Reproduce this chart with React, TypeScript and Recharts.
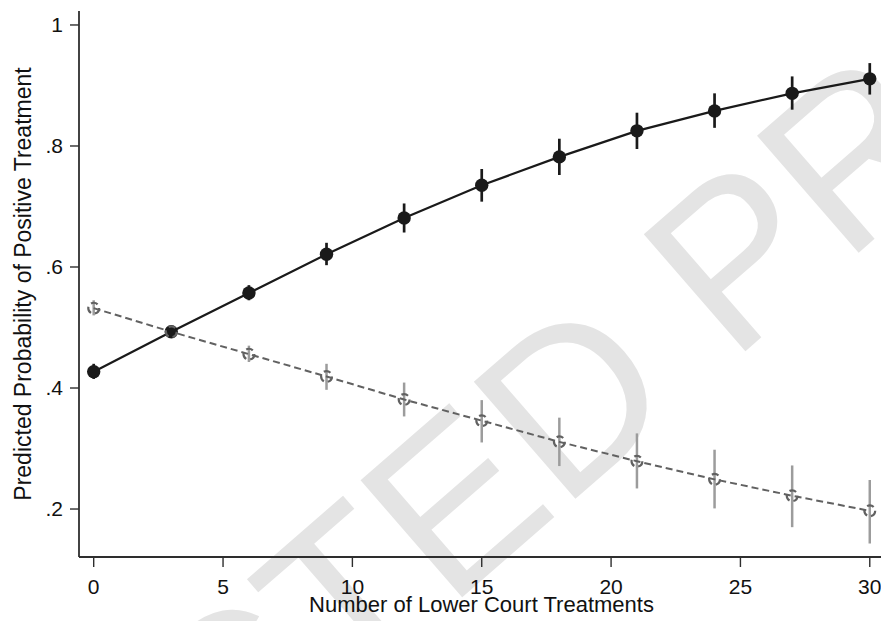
import React from 'react';
import { ComposedChart, Line, XAxis, YAxis, ErrorBar } from 'recharts';

const treatments = [0, 3, 6, 9, 12, 15, 18, 21, 24, 27, 30];
const positiveProb = [0.427, 0.493, 0.557, 0.621, 0.681, 0.735, 0.782, 0.825, 0.858, 0.887, 0.911];
const positiveLow = [0.415, 0.485, 0.545, 0.603, 0.657, 0.708, 0.752, 0.795, 0.83, 0.86, 0.885];
const positiveHigh = [0.44, 0.502, 0.57, 0.64, 0.705, 0.762, 0.812, 0.855, 0.887, 0.915, 0.937];
const negativeProb = [0.532, 0.493, 0.456, 0.419, 0.381, 0.346, 0.311, 0.279, 0.249, 0.222, 0.197];
const negativeLow = [0.52, 0.485, 0.443, 0.397, 0.353, 0.31, 0.271, 0.234, 0.201, 0.17, 0.143];
const negativeHigh = [0.545, 0.5, 0.47, 0.44, 0.409, 0.38, 0.351, 0.325, 0.298, 0.272, 0.248];

const xTicks = [0, 5, 10, 15, 20, 25, 30];
const yTicks = [0.2, 0.4, 0.6, 0.8, 1];
const yTickLabels = ['.2', '.4', '.6', '.8', '1'];

const xTitle = 'Number of Lower Court Treatments';
const yTitle = 'Predicted Probability of Positive Treatment';

const data = treatments.map((t, i) => ({
  t,
  pos: positiveProb[i],
  posErr: [positiveProb[i] - positiveLow[i], positiveHigh[i] - positiveProb[i]],
  neg: negativeProb[i],
  negErr: [negativeProb[i] - negativeLow[i], negativeHigh[i] - negativeProb[i]],
}));

const FONT = '"Liberation Sans", Arial, Helvetica, sans-serif';
const AXIS = '#2e2e2e';

const XTitleLabel = (props: any) => {
  const vb = props.viewBox || {};
  const cx = vb.x + vb.width / 2;
  return (
    <text x={cx} y={612} textAnchor="middle" fontFamily={FONT} fontSize={22} fill="#111">
      {xTitle}
    </text>
  );
};

const YTitleLabel = (props: any) => {
  const vb = props.viewBox || {};
  const cy = vb.y + vb.height / 2;
  const x = 31;
  return (
    <text x={x} y={cy} transform={`rotate(-90 ${x} ${cy})`} textAnchor="middle" fontFamily={FONT} fontSize={23} fill="#111">
      {yTitle}
    </text>
  );
};

export default function App() {
  return (
    <div style={{ position: 'absolute', left: 0, top: 0, width: 881, height: 621, overflow: 'hidden', background: '#fff' }}>
      <svg width={881} height={621} style={{ position: 'absolute', left: 0, top: 0 }}>
        <g transform="translate(222 806) rotate(-41)" fontFamily={FONT} fontSize={225} fill="#e4e4e4">
          <text x={0} y={0} textAnchor="end">UNCORRE</text>
          <text x={0} y={0} textAnchor="start">CTED PROOF</text>
        </g>
      </svg>
      <div style={{ position: 'absolute', left: 0, top: 0 }}>
        <ComposedChart width={900} height={621} data={data} margin={{ top: 11, right: 16, bottom: 0, left: 0 }}>
          <XAxis
            xAxisId="top"
            orientation="top"
            type="number"
            dataKey="t"
            domain={[-0.568, 30.55]}
            height={0}
            tick={false}
            tickLine={false}
            axisLine={{ stroke: AXIS, strokeWidth: 1.8 }}
          />
          <XAxis
            type="number"
            dataKey="t"
            domain={[-0.568, 30.55]}
            ticks={xTicks}
            interval={0}
            height={64}
            tickSize={10}
            tickMargin={12}
            axisLine={{ stroke: AXIS, strokeWidth: 1.8 }}
            tickLine={{ stroke: AXIS, strokeWidth: 1.4 }}
            tick={{ fontFamily: FONT, fontSize: 21, fill: '#111' }}
            label={<XTitleLabel />}
          />
          <YAxis
            type="number"
            domain={[0.1207, 1.0231]}
            ticks={yTicks}
            interval={0}
            width={79}
            tickSize={9}
            tickMargin={7}
            axisLine={{ stroke: AXIS, strokeWidth: 1.8 }}
            tickLine={{ stroke: AXIS, strokeWidth: 1.4 }}
            tick={{ fontFamily: FONT, fontSize: 21, fill: '#111' }}
            tickFormatter={(v: number) => {
              const i = yTicks.findIndex((y) => Math.abs(y - v) < 1e-9);
              return i >= 0 ? yTickLabels[i] : String(v);
            }}
            label={<YTitleLabel />}
          />
          <Line
            type="linear"
            dataKey="pos"
            stroke="#1a1a1a"
            strokeWidth={2.2}
            dot={{ r: 6.7, fill: '#1a1a1a', stroke: '#1a1a1a', strokeWidth: 0 }}
            activeDot={false}
            isAnimationActive={false}
          >
            <ErrorBar dataKey="posErr" direction="y" width={0} stroke="#1a1a1a" strokeWidth={2.7} />
          </Line>
          <Line
            type="linear"
            dataKey="neg"
            stroke="#616161"
            strokeWidth={2}
            strokeDasharray="7 4"
            dot={{ r: 5.4, fill: 'none', stroke: '#616161', strokeWidth: 2.2 }}
            activeDot={false}
            isAnimationActive={false}
          >
            <ErrorBar dataKey="negErr" direction="y" width={0} stroke="#9c9c9c" strokeWidth={2.5} />
          </Line>
        </ComposedChart>
      </div>
    </div>
  );
}
